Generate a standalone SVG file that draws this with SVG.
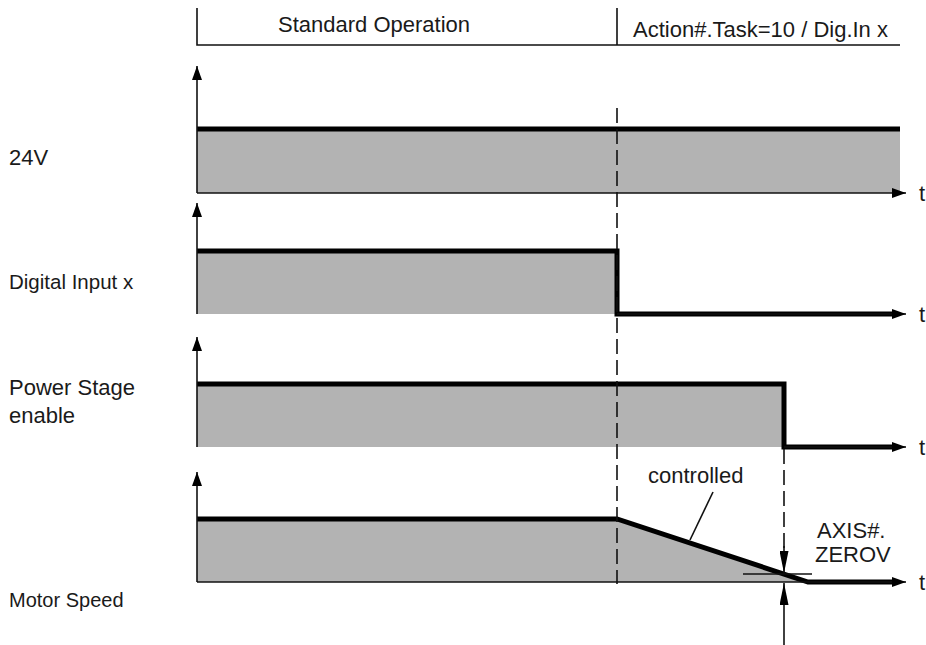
<svg xmlns="http://www.w3.org/2000/svg" width="926" height="645" viewBox="0 0 926 645">
<style>
text{font-family:"Liberation Sans",Arial,sans-serif;fill:#1a1a1a}
.thin{stroke:#111;stroke-width:1.6;fill:none}
.thick{stroke:#000;stroke-width:5;fill:none;stroke-linejoin:miter}
.fill{fill:#b3b3b3;stroke:none}
.dash{stroke:#111;stroke-width:1.6;fill:none;stroke-dasharray:15 6}
</style>
<defs>
<marker id="ah" viewBox="0 0 14 10" refX="14" refY="5" markerWidth="14" markerHeight="10" markerUnits="userSpaceOnUse" orient="auto">
<path d="M0,0 L14,5 L0,10 Z" fill="#000"/>
</marker>
<marker id="ahl" viewBox="0 0 22 9" refX="22" refY="4.5" markerWidth="22" markerHeight="9" markerUnits="userSpaceOnUse" orient="auto">
<path d="M0,0 L22,4.5 L0,9 Z" fill="#000"/>
</marker>
</defs>
<rect width="926" height="645" fill="#fff"/>

<g id="header">
<path class="thin" d="M197,8 V45 H900 M617,8 V45"/>
<text x="374" y="32" font-size="22" text-anchor="middle">Standard Operation</text>
<text x="633" y="37" font-size="22">Action#.Task=10 / Dig.In x</text>
</g>

<g id="sig-24v">
<rect class="fill" x="197" y="129" width="703" height="64"/>
<path class="thick" d="M197,129 H900"/>
<text x="9" y="165" font-size="22">24V</text>
<text x="919" y="201" font-size="22">t</text>
</g>

<g id="sig-digital">
<rect class="fill" x="197" y="251" width="420" height="63"/>
<path class="thick" d="M197,251 H617 V314 H895"/>
<text x="9" y="289" font-size="20.5">Digital Input x</text>
<text x="919" y="322" font-size="22">t</text>
</g>

<g id="sig-power">
<rect class="fill" x="197" y="384" width="587" height="63"/>
<path class="thick" d="M197,384 H784 V447 H895"/>
<text x="9" y="395" font-size="22">Power Stage</text>
<text x="9" y="423" font-size="22">enable</text>
<text x="919" y="455" font-size="22">t</text>
</g>

<g id="sig-motor">
<polygon class="fill" points="197,519 617,519 808,582 197,582"/>
<path class="thick" d="M197,519 H617 L808,582 H895"/>
<text x="9" y="607" font-size="20">Motor Speed</text>
<text x="919" y="590" font-size="22">t</text>
<text x="648" y="483" font-size="22">controlled</text>
<text x="817" y="538" font-size="22">AXIS#.</text>
<text x="815" y="562" font-size="22">ZEROV</text>
</g>

<g id="connectors">
<path class="thin" d="M197,193 V66" marker-end="url(#ah)"/>
<path class="thin" d="M197,193 H906" marker-end="url(#ah)"/>
<path class="thin" d="M197,314 V203" marker-end="url(#ah)"/>
<path class="thin" d="M617,314 H906" marker-end="url(#ah)"/>
<path class="thin" d="M197,447 V337" marker-end="url(#ah)"/>
<path class="thin" d="M784,447 H906" marker-end="url(#ah)"/>
<path class="thin" d="M197,582 V472" marker-end="url(#ah)"/>
<path class="thin" d="M197,582 H906" marker-end="url(#ah)"/>
<path class="dash" d="M617,108 V584"/>
<path class="dash" d="M784,449 V548"/>
<path class="thin" d="M784,546 V573" marker-end="url(#ahl)"/>
<path class="thin" d="M784,645 V583" marker-end="url(#ahl)"/>
<path class="thin" d="M743,574 H812"/>
<path class="thin" d="M713,492 L690,540"/>
</g>
</svg>
